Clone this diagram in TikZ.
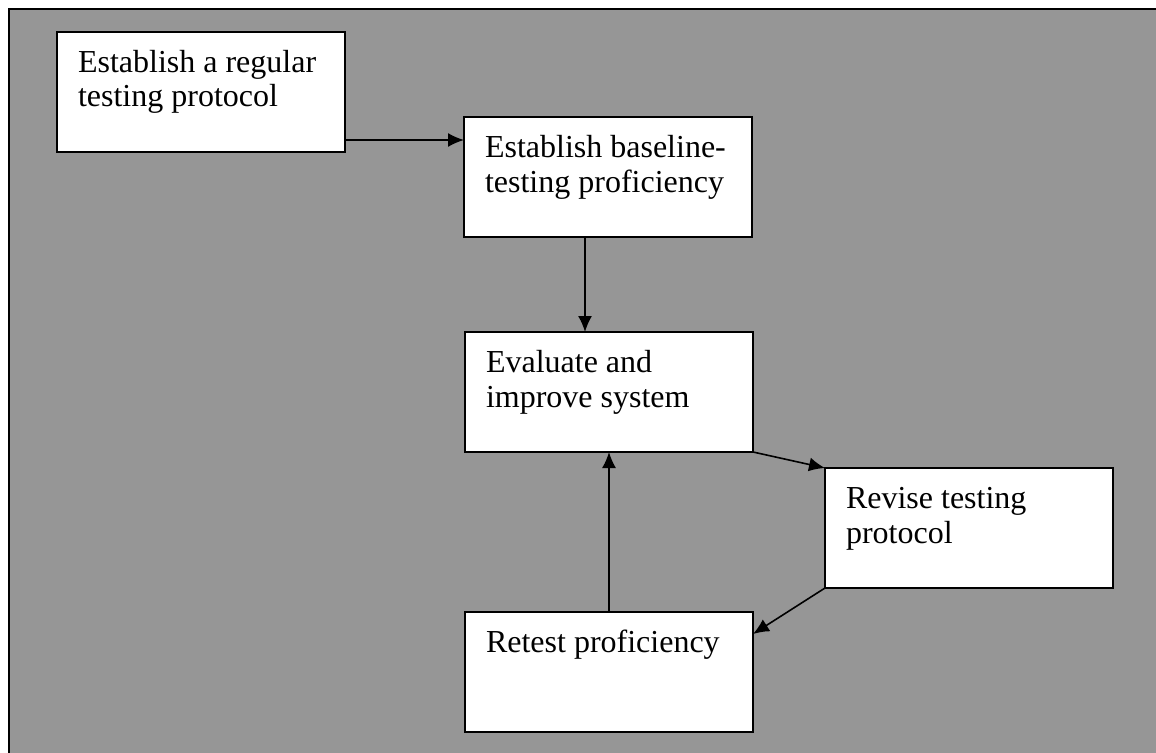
\documentclass[tikz,border=0pt]{standalone}
\usepackage{fontspec}
\setmainfont{Liberation Serif}
\usetikzlibrary{arrows.meta}
\definecolor{bggray}{RGB}{150,150,150}
\tikzset{
  stepbox/.style={draw=black, fill=white, line width=1.8pt, rectangle, anchor=north west,
    inner xsep=21pt, inner ysep=0pt, outer sep=0pt,
    font=\fontsize{32}{35}\selectfont},
  flow/.style={line width=1.6pt, -{Latex[length=16pt,width=14pt]}}
}
\newcommand{\boxtext}[1]{\parbox[c][120pt][t]{246pt}{\raggedright\rule{0pt}{40pt}#1}}
\begin{document}
\begin{tikzpicture}[x=1pt,y=-1pt]
\useasboundingbox (0,0) rectangle (1156,752);
\clip (0,0) rectangle (1156,752);
\draw[fill=bggray, line width=2pt] (9,9) rectangle (1180,780);
\node[stepbox] (b1) at (57,32) {\boxtext{Establish a regular\\testing protocol}};
\node[stepbox] (b2) at (464,117) {\boxtext{Establish baseline-\\testing proficiency}};
\node[stepbox] (b3) at (465,332) {\boxtext{Evaluate and\\improve system}};
\node[stepbox] (b4) at (825,468) {\boxtext{Revise testing\\protocol}};
\node[stepbox] (b5) at (465,612) {\boxtext{Retest proficiency}};
\draw[flow] (b1.east |- 0,140) -- (b2.west |- 0,140);
\draw[flow] (b2.south -| 585,0) -- (b3.north -| 585,0);
\draw[flow] (b3.south east) -- (b4.north west);
\draw[flow] (b4.south west) -- (b5.east |- 0,634);
\draw[flow] (b5.north -| 609,0) -- (b3.south -| 609,0);
\end{tikzpicture}
\end{document}
